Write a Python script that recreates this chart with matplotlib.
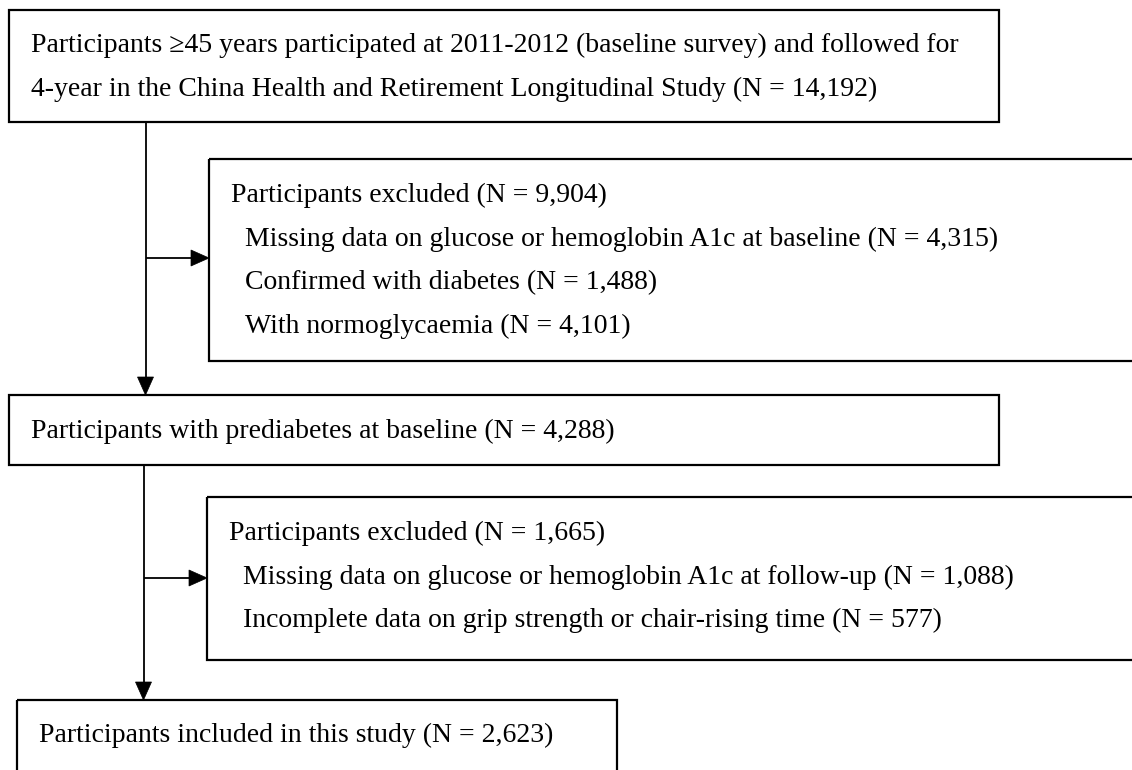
import math
import matplotlib
matplotlib.use("Agg")
import matplotlib.pyplot as plt
from matplotlib.patches import Rectangle, Polygon

plt.rcParams['font.family'] = ['Liberation Serif', 'DejaVu Serif']

# ---- content ----
box1_lines = [
    "Participants \u226545 years participated at 2011-2012 (baseline survey) and followed for",
    "4-year in the China Health and Retirement Longitudinal Study (N = 14,192)",
]
excl1_title = "Participants excluded (N = 9,904)"
excl1_items = [
    "Missing data on glucose or hemoglobin A1c at baseline (N = 4,315)",
    "Confirmed with diabetes (N = 1,488)",
    "With normoglycaemia (N = 4,101)",
]
box3_lines = ["Participants with prediabetes at baseline (N = 4,288)"]
excl2_title = "Participants excluded (N = 1,665)"
excl2_items = [
    "Missing data on glucose or hemoglobin A1c at follow-up (N = 1,088)",
    "Incomplete data on grip strength or chair-rising time (N = 577)",
]
box5_lines = ["Participants included in this study (N = 2,623)"]

W, H = 1132, 770
fig = plt.figure(figsize=(W / 100, H / 100), dpi=100)
ax = fig.add_axes([0, 0, 1, 1])
ax.set_xlim(0, W)
ax.set_ylim(H, 0)
ax.axis('off')

FS = 20.0
BOX_LW = 1.6
LINE_LW = 1.3


def box(x0, y0, x1, y1):
    ax.add_patch(Rectangle((x0, y0), x1 - x0, y1 - y0, fill=False,
                           edgecolor='black', lw=BOX_LW, zorder=2))


def text_lines(x, y0, lines, dy=43.5):
    for i, s in enumerate(lines):
        ax.text(x, y0 + i * dy, s, fontsize=FS, va='baseline', ha='left',
                color='black')


def arrow(x0, y0, x1, y1, hl=18, hw=8):
    dx, dy = x1 - x0, y1 - y0
    L = math.hypot(dx, dy)
    ux, uy = dx / L, dy / L
    bx, by = x1 - ux * hl, y1 - uy * hl
    ax.plot([x0, bx], [y0, by], color='black', lw=LINE_LW,
            solid_capstyle='butt', zorder=1)
    px, py = -uy, ux
    ax.add_patch(Polygon([(x1, y1), (bx + px * hw, by + py * hw),
                          (bx - px * hw, by - py * hw)], closed=True,
                         facecolor='black', edgecolor='black', lw=0.5,
                         zorder=3))


# boxes
box(9, 9.5, 998.5, 122)
text_lines(31, 52, box1_lines, dy=44)

box(209, 159, 1145, 361)
text_lines(231, 202, [excl1_title])
text_lines(245, 246, excl1_items)

box(9, 395, 999, 464.5)
text_lines(31, 438, box3_lines)

box(207, 497, 1145, 660)
text_lines(229, 540, [excl2_title])
text_lines(243, 583.5, excl2_items)

box(17, 700, 617, 790)
text_lines(39, 742, box5_lines)

# connectors
arrow(145.5, 122, 145.5, 395)
arrow(145.5, 258, 209, 258)
arrow(143.5, 464.5, 143.5, 700)
arrow(143.5, 578, 207, 578)

fig.savefig('out.png', dpi=100, facecolor='white')
